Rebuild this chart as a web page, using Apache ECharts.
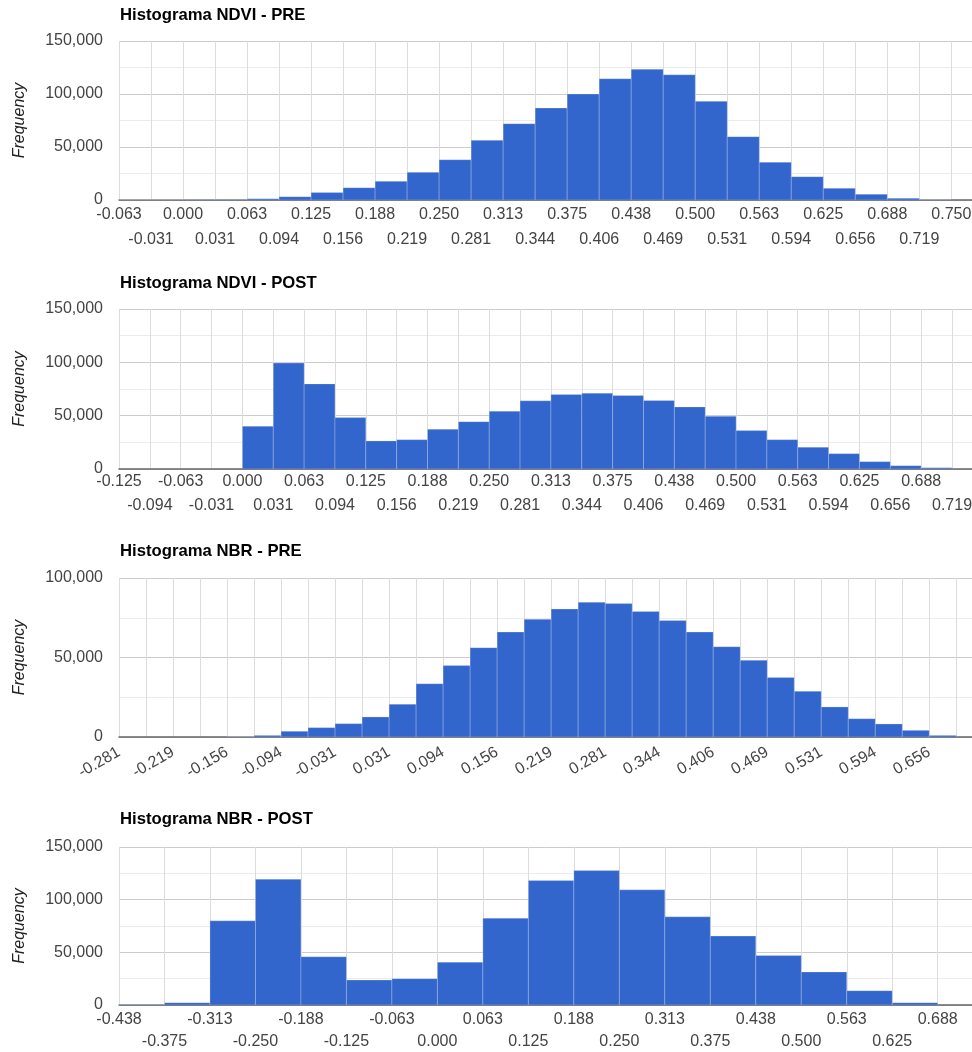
<!DOCTYPE html>
<html>
<head>
<meta charset="utf-8">
<script src="https://cdn.jsdelivr.net/npm/echarts@6/dist/echarts.min.js"></script>
<style>
  html, body { margin: 0; padding: 0; background: #fff; }
  #chart { width: 972px; height: 1052px; }
</style>
</head>
<body>
<div id="chart"></div>
<script>
// Histogram bins: each series starts at its bin start and steps by its bin width.
const ndviPreStart = -0.0625;
const ndviPreWidth = 0.03125;
const ndviPreCounts = [100, 100, 200, 500, 1200, 3100, 7000, 11600, 17600, 26100, 38000, 56300,
  72000, 86800, 100000, 114400, 123300, 118200, 93100, 59700, 35600, 22000, 11000, 5400, 1600, 300];

const ndviPostStart = -0.125;
const ndviPostWidth = 0.03125;
const ndviPostCounts = [0, 0, 0, 0, 40100, 99300, 79800, 48200, 26300, 27500, 37300, 44400,
  54200, 63900, 69800, 71100, 68900, 64200, 58200, 49500, 36000, 27500, 20400, 14400, 6900, 3100, 1200, 0];

const nbrPreStart = -0.28125;
const nbrPreWidth = 0.03125;
const nbrPreCounts = [0, 0, 0, 0, 100, 1000, 3600, 5900, 8400, 12600, 20600, 33500, 44900, 56200,
  66000, 74000, 80500, 84700, 83900, 79000, 73200, 66000, 56800, 48200, 37500, 28700, 18900,
  11500, 8200, 4200, 1000, 0];

const nbrPostStart = -0.4375;
const nbrPostWidth = 0.0625;
const nbrPostCounts = [500, 2200, 79900, 119400, 45800, 23700, 25000, 40700, 82400, 118100,
  127600, 109300, 83700, 65400, 47100, 31300, 13600, 2200, 0];

// Titles and axis limits
const panelTitles = ['Histograma NDVI - PRE', 'Histograma NDVI - POST', 'Histograma NBR - PRE', 'Histograma NBR - POST'];
const yMaxes = [150000, 150000, 100000, 150000];
const xMaxes = [0.7702, 0.7390, 0.7057, 0.7346];

const histograms = [
  { start: ndviPreStart, width: ndviPreWidth, counts: ndviPreCounts },
  { start: ndviPostStart, width: ndviPostWidth, counts: ndviPostCounts },
  { start: nbrPreStart, width: nbrPreWidth, counts: nbrPreCounts },
  { start: nbrPostStart, width: nbrPostWidth, counts: nbrPostCounts }
];

// Panel layout (pixels) and x label style: 'alt' = two staggered rows, 'slant' = every other tick, rotated
const layout = [
  { titleTop: 7,   gridTop: 41,  gridHeight: 159, labels: 'alt',   margin: 7, rowGap: 25 },
  { titleTop: 275, gridTop: 309, gridHeight: 160, labels: 'alt',   margin: 5, rowGap: 24 },
  { titleTop: 543, gridTop: 578, gridHeight: 159, labels: 'slant', margin: 14 },
  { titleTop: 811, gridTop: 847, gridHeight: 158, labels: 'alt',   margin: 7, rowGap: 22 }
];

const FONT = '"Liberation Sans", Arial, sans-serif';
const BAR = '#3366cc';
const LABEL_COLOR = '#444';

function renderBin(params, api) {
  const n = api.value(2);
  if (!n) return null;
  const p0 = api.coord([api.value(0), n]);
  const p1 = api.coord([api.value(1), 0]);
  const cs = params.coordSys;
  const shape = echarts.graphic.clipRectByRect(
    { x: p0[0], y: p0[1], width: p1[0] - p0[0], height: p1[1] - p0[1] },
    { x: cs.x, y: cs.y, width: cs.width, height: cs.height }
  );
  if (!shape) return null;
  return {
    type: 'rect',
    shape: shape,
    style: { fill: BAR, stroke: 'rgba(255,255,255,0.22)', lineWidth: 1 }
  };
}

const titles = [], grids = [], xAxes = [], yAxes = [], series = [];

histograms.forEach((h, k) => {
  const L = layout[k];
  const step = h.width;
  const tickIndex = (v) => Math.round((v - h.start) / step);
  const tickText = (v) => (Math.abs(v) < 1e-9 ? 0 : v).toFixed(3);

  titles.push({
    text: panelTitles[k],
    left: 120, top: L.titleTop,
    padding: 0,
    textStyle: { fontFamily: FONT, fontSize: 16.7, fontWeight: 'bold', color: '#000' }
  });
  grids.push({
    left: 119, right: 0, top: L.gridTop, height: L.gridHeight,
    outerBoundsMode: 'none', containLabel: false
  });

  // main x axis: baseline, vertical grid lines and the even-numbered tick labels
  const mainAxisIndex = xAxes.length;
  xAxes.push({
    type: 'value', gridIndex: k,
    min: h.start, max: xMaxes[k], interval: step,
    axisLine: { show: true, onZero: false, lineStyle: { color: '#666', width: 1.5 } },
    axisTick: { show: false },
    splitLine: { show: true, lineStyle: { color: '#dcdcdc', width: 1 } },
    axisLabel: {
      show: true,
      formatter: (v) => tickIndex(v) % 2 === 0 ? tickText(v) : '',
      showMaxLabel: false,
      showMinLabel: true,
      hideOverlap: false,
      rotate: L.labels === 'slant' ? 30 : 0,
      margin: L.margin,
      fontFamily: FONT, fontSize: 16, color: LABEL_COLOR
    }
  });

  // second row of staggered labels (odd-numbered ticks)
  if (L.labels === 'alt') {
    xAxes.push({
      type: 'value', gridIndex: k, position: 'bottom',
      min: h.start, max: xMaxes[k], interval: step,
      axisLine: { show: false },
      axisTick: { show: false },
      splitLine: { show: false },
      axisLabel: {
        show: true,
        formatter: (v) => tickIndex(v) % 2 === 1 ? tickText(v) : '',
        showMaxLabel: false,
        showMinLabel: false,
        hideOverlap: false,
        margin: L.margin + L.rowGap,
        fontFamily: FONT, fontSize: 16, color: LABEL_COLOR
      }
    });
  }

  yAxes.push({
    type: 'value', gridIndex: k,
    min: 0, max: yMaxes[k], interval: 50000,
    name: 'Frequency', nameLocation: 'middle', nameGap: 91, nameRotate: 90,
    nameTextStyle: { fontFamily: FONT, fontSize: 16, fontStyle: 'italic', color: '#222' },
    axisLine: { show: false },
    axisTick: { show: false },
    minorTick: { show: false, splitNumber: 2 },
    splitLine: { show: true, lineStyle: { color: '#cccccc', width: 1 } },
    minorSplitLine: { show: true, lineStyle: { color: '#ebebeb', width: 1 } },
    axisLabel: {
      margin: 16,
      fontFamily: FONT, fontSize: 16, color: LABEL_COLOR,
      formatter: (v) => v.toLocaleString('en-US')
    }
  });

  series.push({
    type: 'custom',
    xAxisIndex: mainAxisIndex, yAxisIndex: k,
    renderItem: renderBin,
    encode: { x: [0, 1], y: 2 },
    clip: true,
    silent: true,
    data: h.counts.map((c, i) => [h.start + i * step, h.start + (i + 1) * step, c])
  });
});

const chart = echarts.init(document.getElementById('chart'), null, { renderer: 'canvas' });
chart.setOption({
  animation: false,
  backgroundColor: '#fff',
  title: titles,
  grid: grids,
  xAxis: xAxes,
  yAxis: yAxes,
  series: series
});
</script>
</body>
</html>
